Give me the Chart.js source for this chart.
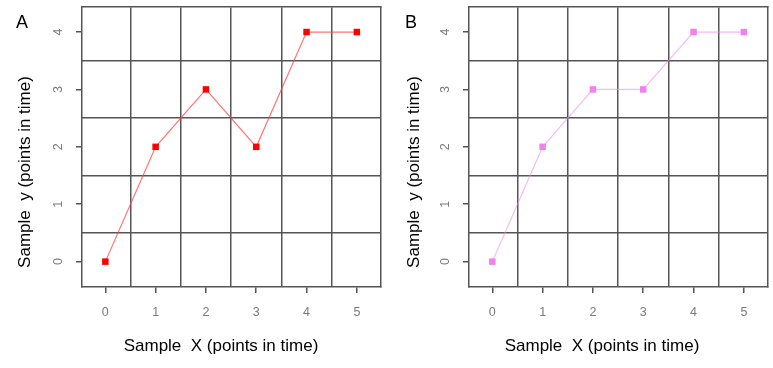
<!DOCTYPE html>
<html>
<head>
<meta charset="utf-8">
<script src="https://cdn.jsdelivr.net/npm/chart.js@4/dist/chart.umd.min.js"></script>
<style>
  html, body { margin: 0; padding: 0; background: #fff; }
  #wrap { position: relative; width: 773px; height: 368px; overflow: hidden; font-family: "Liberation Sans", Arial, sans-serif; }
  .panel { position: absolute; top: 0; width: 386px; height: 368px; }
  .panel canvas { position: absolute; left: 0; top: 0; }
  .tag { position: absolute; font-size: 18px; color: #000; transform: translate(-50%, -50%); }
  .xt, .yt { position: absolute; font-size: 17px; color: #000; white-space: pre; transform: translate(-50%, -50%); }
  .yt { transform: translate(-50%, -50%) rotate(-90deg); }
</style>
</head>
<body>
<div id="wrap">
  <div class="panel" style="left:0">
    <canvas id="chartA" width="386" height="368"></canvas>
    <div class="tag" style="left:22px;top:22px">A</div>
    <div class="xt" style="left:221px;top:346px">Sample  X (points in time)</div>
    <div class="yt" style="left:25px;top:172px">Sample  y (points in time)</div>
  </div>
  <div class="panel" style="left:387px">
    <canvas id="chartB" width="386" height="368"></canvas>
    <div class="tag" style="left:24px;top:22px">B</div>
    <div class="xt" style="left:215px;top:346px">Sample  X (points in time)</div>
    <div class="yt" style="left:27px;top:172px">Sample  y (points in time)</div>
  </div>
</div>
<script>
const xTicks = [0, 1, 2, 3, 4, 5]
const yTicks = [0, 1, 2, 3, 4]
const xGrid = [0.5, 1.5, 2.5, 3.5, 4.5]
const yGrid = [0.5, 1.5, 2.5, 3.5]

const timeA = [0, 1, 2, 3, 4, 5]
const valuesA = [0, 2, 3, 2, 4, 4]
const timeB = [0, 1, 2, 3, 4, 5]
const valuesB = [0, 2, 3, 3, 4, 4]

const FONT = "'Liberation Sans', Arial, sans-serif"
const GRID = "#555555"
const X_MIN = -0.464, X_MAX = 5.48
const Y_MIN = -0.442, Y_MAX = 4.436

function setTicks(values) {
  return scale => { scale.ticks = values.map(v => ({ value: v })) }
}

// fixed box sizes so the plot area lands where the reference has it
function fixSize(size) {
  return scale => {
    if (scale.isHorizontal()) scale.height = size
    else scale.width = size
    scale.paddingTop = 0
    scale.paddingBottom = 0
    scale.paddingLeft = 0
    scale.paddingRight = 0
  }
}

function makeChart(id, xs, ys, pointColor, lineColor) {
  return new Chart(document.getElementById(id), {
    type: "line",
    data: {
      datasets: [{
        data: xs.map((x, i) => ({ x: x, y: ys[i] })),
        borderColor: lineColor,
        borderWidth: 1.2,
        pointStyle: "rect",
        pointRadius: 4.6,
        pointBackgroundColor: pointColor,
        pointBorderWidth: 0,
        tension: 0
      }]
    },
    options: {
      responsive: false,
      animation: false,
      devicePixelRatio: 1,
      layout: { padding: { top: 7, right: 5, bottom: 0, left: 0 } },
      plugins: { legend: { display: false }, tooltip: { enabled: false } },
      scales: {
        x: {
          type: "linear", position: "bottom", min: X_MIN, max: X_MAX,
          afterBuildTicks: setTicks(xTicks),
          afterFit: fixSize(81),
          grid: { display: true, drawOnChartArea: false, drawTicks: true, tickLength: 6, color: GRID, lineWidth: 1.5 },
          border: { display: true, color: GRID, width: 1.5 },
          ticks: { color: "#7a7a7a", font: { size: 12.5, family: FONT }, padding: 12, maxRotation: 0 }
        },
        y: {
          type: "linear", position: "left", min: Y_MIN, max: Y_MAX,
          afterBuildTicks: setTicks(yTicks),
          afterFit: fixSize(82),
          grid: { display: true, drawOnChartArea: false, drawTicks: true, tickLength: 6, color: GRID, lineWidth: 1.5 },
          border: { display: true, color: GRID, width: 1.5 },
          ticks: { color: "#7a7a7a", font: { size: 12.5, family: FONT }, padding: 14, minRotation: 90, maxRotation: 90, crossAlign: "center" }
        },
        x2: {
          type: "linear", position: "top", min: X_MIN, max: X_MAX,
          afterBuildTicks: setTicks(xGrid),
          afterFit: fixSize(0),
          grid: { display: true, drawOnChartArea: true, drawTicks: false, color: GRID, lineWidth: 1.5 },
          border: { display: true, color: GRID, width: 1.5 },
          ticks: { display: false }
        },
        y2: {
          type: "linear", position: "right", min: Y_MIN, max: Y_MAX,
          afterBuildTicks: setTicks(yGrid),
          afterFit: fixSize(0),
          grid: { display: true, drawOnChartArea: true, drawTicks: false, color: GRID, lineWidth: 1.5 },
          border: { display: true, color: GRID, width: 1.5 },
          ticks: { display: false }
        }
      }
    }
  })
}

makeChart("chartA", timeA, valuesA, "#ff0000", "rgba(255, 70, 70, 0.75)")
makeChart("chartB", timeB, valuesB, "#ee82ee", "rgba(240, 140, 240, 0.6)")
</script>
</body>
</html>
